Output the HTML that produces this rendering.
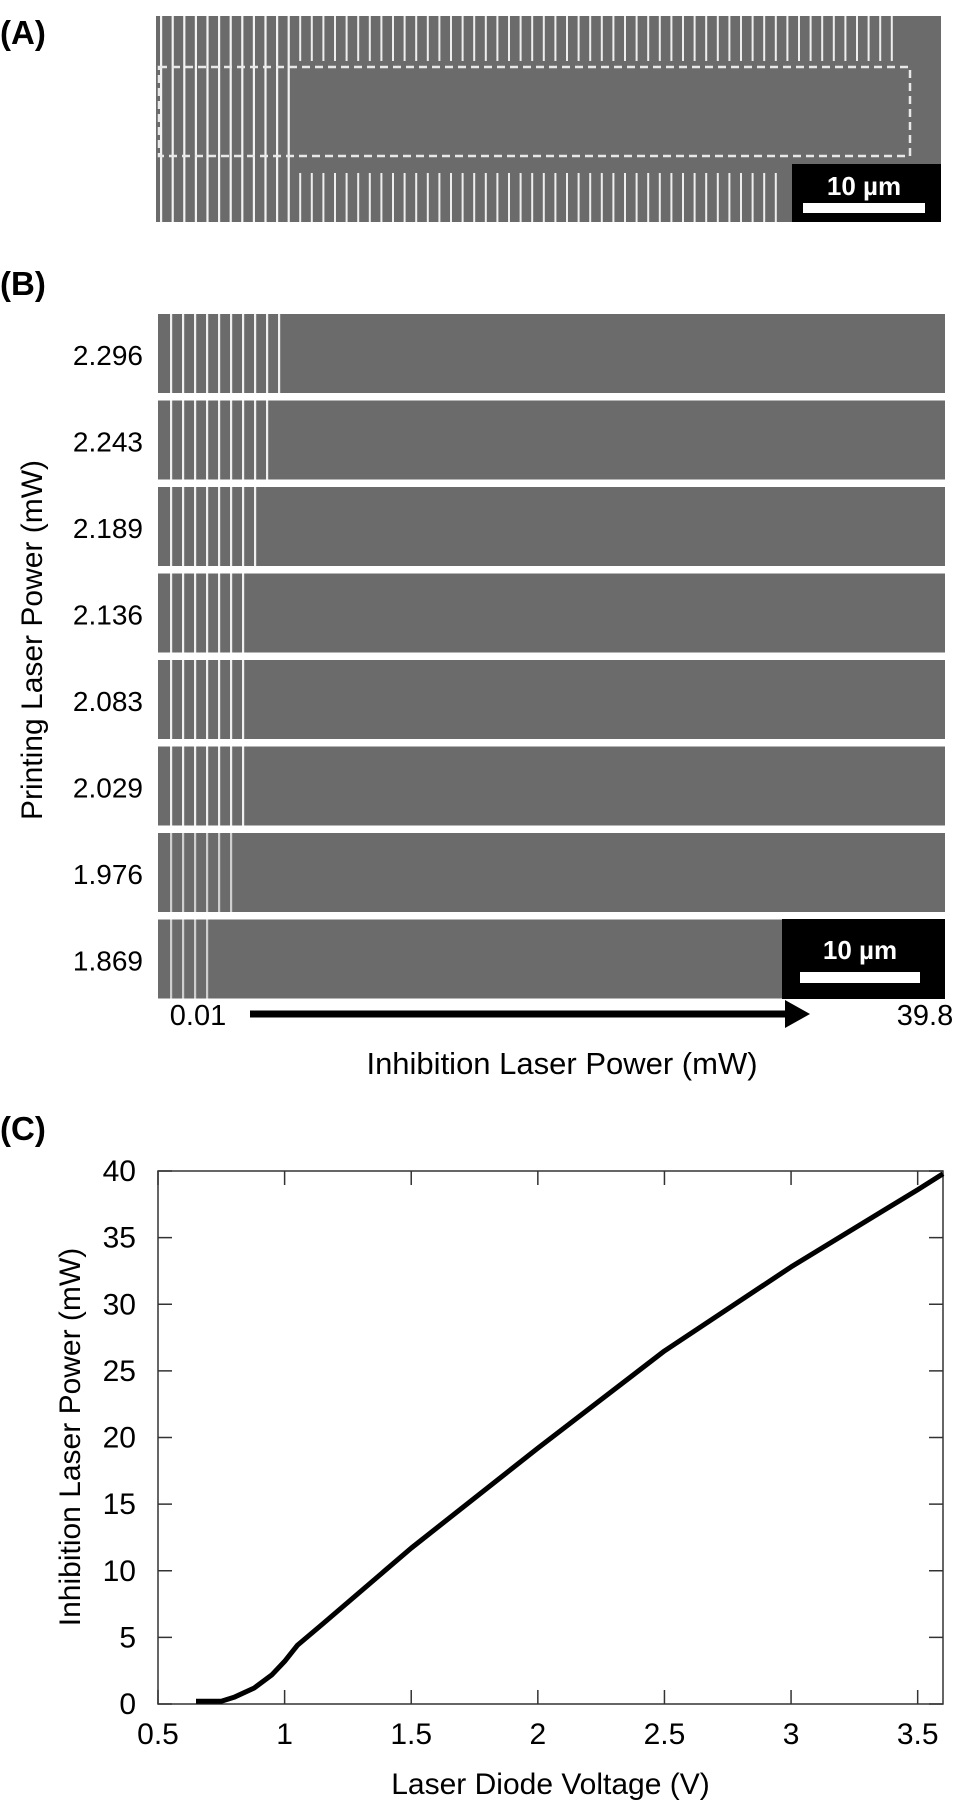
<!DOCTYPE html>
<html><head><meta charset="utf-8"><style>
html,body{margin:0;padding:0;background:#fff;width:965px;height:1817px;overflow:hidden}
svg{display:block;font-family:"Liberation Sans",Arial,sans-serif}
</style></head><body>
<svg id="fig" width="965" height="1817" viewBox="0 0 965 1817" xmlns="http://www.w3.org/2000/svg">
<text x="0" y="44" font-size="33" font-weight="bold">(A)</text>
<g id="panelA"></g>
<text x="0" y="295" font-size="33" font-weight="bold">(B)</text>
<g id="panelB"></g>
<text transform="translate(42,640) rotate(-90)" text-anchor="middle" font-size="30">Printing Laser Power (mW)</text>
<text x="198" y="1025" font-size="29" text-anchor="middle">0.01</text>
<g>
<line x1="250" y1="1014" x2="790" y2="1014" stroke="#000" stroke-width="7"/>
<polygon points="785,1000 810,1014 785,1028" fill="#000"/>
</g>
<text x="925" y="1025" font-size="29" text-anchor="middle">39.8</text>
<text x="562" y="1074" font-size="31" text-anchor="middle">Inhibition Laser Power (mW)</text>
<text x="0" y="1140" font-size="33" font-weight="bold">(C)</text>
<g id="panelC"></g>
</svg>
<script>
var NS="http://www.w3.org/2000/svg";
function mk(tag,attrs,parent){var e=document.createElementNS(NS,tag);for(var k in attrs)e.setAttribute(k,attrs[k]);parent.appendChild(e);return e;}
var GRAY="#6b6b6b";
// Panel A
var A=document.getElementById('panelA');
mk('rect',{x:156,y:16,width:785,height:206,fill:GRAY},A);
for(var x=160;x<895;x+=11.6){
  var full = x<292;
  if(full){mk('rect',{x:x,y:16,width:2.2,height:206,fill:'#f2f2f2'},A);}
  else{
    mk('rect',{x:x,y:16,width:2,height:45,fill:'#eee'},A);
    if(x<785) mk('rect',{x:x,y:173,width:2,height:49,fill:'#eee'},A);
  }
}
mk('rect',{x:159,y:67,width:751,height:89,fill:'none',stroke:'#e8e8e8','stroke-width':2.5,'stroke-dasharray':'8,5'},A);
var sbA=mk('g',{},A);


mk('rect',{x:792,y:164,width:149,height:58,fill:'#000'},sbA);
var tA=mk('text',{x:864,y:195,'font-size':26,'font-weight':'bold',fill:'#fff','text-anchor':'middle'},sbA);tA.textContent='10 µm';
mk('rect',{x:803,y:203,width:122,height:10,fill:'#fff'},sbA);
// Panel B
var B=document.getElementById('panelB');
var rowLabels=["2.296","2.243","2.189","2.136","2.083","2.029","1.976","1.869"];
var rowLines=[10,9,8,7,7,7,6,4];
for(var i=0;i<8;i++){
  var y=314+i*86.5;
  var g=mk('g',{},B);
  
  
  mk('rect',{x:158,y:y,width:787,height:79,fill:GRAY},g);
  for(var j=0;j<rowLines[i];j++){
    mk('rect',{x:170+j*12,y:y,width:2.2,height:79,fill:(i>=6?'#cfcfcf':'#f0f0f0')},g);
  }
  var t=mk('text',{x:143,y:y+51,'font-size':28,'text-anchor':'end'},g);
  t.textContent=rowLabels[i];
}
var sbB=mk('g',{},B);


mk('rect',{x:782,y:919,width:163,height:80,fill:'#000'},sbB);
var tB=mk('text',{x:860,y:959,'font-size':26,'font-weight':'bold',fill:'#fff','text-anchor':'middle'},sbB);tB.textContent='10 µm';
mk('rect',{x:800,y:972,width:120,height:11,fill:'#fff'},sbB);
</script>
<script>
// Panel C data
var voltage=[0.65,0.75,0.8,0.88,0.95,1.0,1.05,1.15,1.5,2.0,2.5,3.0,3.5,3.6];
var power=[0.2,0.2,0.5,1.2,2.2,3.2,4.4,6.0,11.7,19.2,26.5,32.8,38.6,39.8];
var xTicks=[0.5,1,1.5,2,2.5,3,3.5];
var xTickLabels=["0.5","1","1.5","2","2.5","3","3.5"];
var yTicks=[0,5,10,15,20,25,30,35,40];
var yTickLabels=["0","5","10","15","20","25","30","35","40"];
var C=document.getElementById('panelC');
var L=158,R=943,T=1171,Bt=1704;
function sx(v){return L+(v-0.5)/(3.6-0.5)*(R-L);}
function sy(v){return Bt-v/40*(Bt-T);}
var frame=mk('rect',{x:L,y:T,width:R-L,height:Bt-T,fill:'none',stroke:'#333','stroke-width':1.5},C);


xTicks.forEach(function(v,i){
  var x=sx(v);
  mk('line',{x1:x,y1:Bt,x2:x,y2:Bt-14,stroke:'#333','stroke-width':1.5},C);
  mk('line',{x1:x,y1:T,x2:x,y2:T+14,stroke:'#333','stroke-width':1.5},C);
  var t=mk('text',{x:x,y:Bt+40,'font-size':30,'text-anchor':'middle'},C);
  
  
  t.textContent=xTickLabels[i];
});
yTicks.forEach(function(v,i){
  var y=sy(v);
  mk('line',{x1:L,y1:y,x2:L+14,y2:y,stroke:'#333','stroke-width':1.5},C);
  mk('line',{x1:R,y1:y,x2:R-14,y2:y,stroke:'#333','stroke-width':1.5},C);
  var t=mk('text',{x:L-22,y:y+10,'font-size':30,'text-anchor':'end'},C);
  
  
  t.textContent=yTickLabels[i];
});
var d=voltage.map(function(v,i){return (i?'L':'M')+sx(v).toFixed(1)+','+sy(power[i]).toFixed(1);}).join(' ');
var line=mk('path',{d:d,fill:'none',stroke:'#000','stroke-width':5,'stroke-linejoin':'round'},C);


var xt=mk('text',{x:(L+R)/2,y:1794,'font-size':30,'text-anchor':'middle'},C);


xt.textContent='Laser Diode Voltage (V)';
var yt=mk('text',{transform:'translate(80,1437) rotate(-90)','font-size':30,'text-anchor':'middle'},C);


yt.textContent='Inhibition Laser Power (mW)';
</script>
</body></html>
